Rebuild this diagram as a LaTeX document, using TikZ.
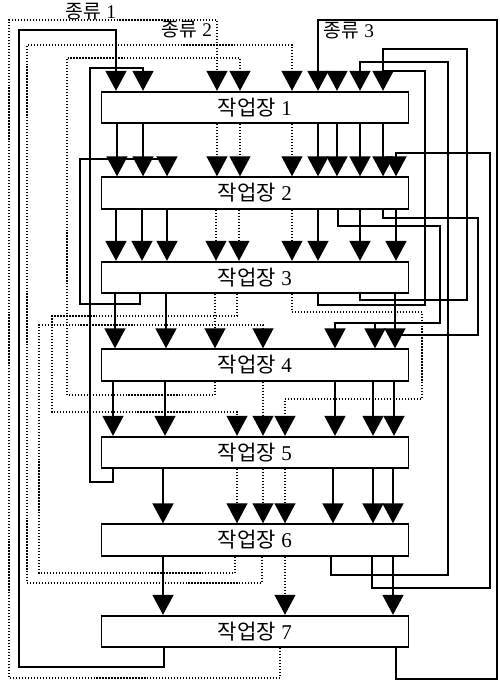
\documentclass[tikz,border=0pt]{standalone}
\usepackage{fontspec}
\setmainfont{Liberation Serif}
\newfontfamily\krfont{Noto Sans CJK KR}
\usetikzlibrary{arrows.meta}

\tikzset{
  station/.style={draw, line width=1.1pt, minimum width=6.14cm, minimum height=0.63cm,
    inner sep=0pt, font=\fontsize{12}{14}\selectfont},
  solidflow/.style={line width=1.1pt},
  dotflow/.style={line width=0.7pt, densely dotted},
  feed/.style={-{Triangle[width=0.42cm,length=0.4cm]}},
}

\begin{document}
\begin{tikzpicture}[x=0.02cm, y=-0.02cm]
    \useasboundingbox (0,0) rectangle (500,681);

    % Work stations
    \node[station] (b1) at (255,107.5) {{\krfont 작업장} 1};
    \node[station] (b2) at (255,193) {{\krfont 작업장} 2};
    \node[station] (b3) at (255,277.5) {{\krfont 작업장} 3};
    \node[station] (b4) at (255,365) {{\krfont 작업장} 4};
    \node[station] (b5) at (255,452.5) {{\krfont 작업장} 5};
    \node[station] (b6) at (255,540) {{\krfont 작업장} 6};
    \node[station] (b7) at (255,631.5) {{\krfont 작업장} 7};

    % Product labels
    \node (k1) at (91,12) {\fontsize{11}{13}\selectfont{\krfont 종류} 1};
    \node (k2) at (187,30) {\fontsize{11}{13}\selectfont{\krfont 종류} 2};
    \node (k3) at (349,31) {\fontsize{11}{13}\selectfont{\krfont 종류} 3};

    % Straight solid flows
    \draw[solidflow, feed] (117,0 |- b1.south) -- (117,0 |- b2.north);
    \draw[solidflow, feed] (143,0 |- b1.south) -- (143,0 |- b2.north);
    \draw[solidflow, feed] (318,0 |- b1.south) -- (318,0 |- b2.north);
    \draw[solidflow, feed] (337,0 |- b1.south) -- (337,0 |- b2.north);
    \draw[solidflow, feed] (360,0 |- b1.south) -- (360,0 |- b2.north);
    \draw[solidflow, feed] (383,0 |- b1.south) -- (383,0 |- b2.north);
    \draw[solidflow, feed] (116,0 |- b2.south) -- (116,0 |- b3.north);
    \draw[solidflow, feed] (142,0 |- b2.south) -- (142,0 |- b3.north);
    \draw[solidflow, feed] (167,0 |- b2.south) -- (167,0 |- b3.north);
    \draw[solidflow, feed] (318,0 |- b2.south) -- (318,0 |- b3.north);
    \draw[solidflow, feed] (360,0 |- b2.south) -- (360,0 |- b3.north);
    \draw[solidflow, feed] (396,0 |- b2.south) -- (396,0 |- b3.north);
    \draw[solidflow, feed] (115,0 |- b3.south) -- (115,0 |- b4.north);
    \draw[solidflow, feed] (166,0 |- b3.south) -- (166,0 |- b4.north);
    \draw[solidflow, feed] (395,0 |- b3.south) -- (395,0 |- b4.north);
    \draw[solidflow, feed] (113,0 |- b4.south) -- (113,0 |- b5.north);
    \draw[solidflow, feed] (165,0 |- b4.south) -- (165,0 |- b5.north);
    \draw[solidflow, feed] (335,0 |- b4.south) -- (335,0 |- b5.north);
    \draw[solidflow, feed] (373,0 |- b4.south) -- (373,0 |- b5.north);
    \draw[solidflow, feed] (394,0 |- b4.south) -- (394,0 |- b5.north);
    \draw[solidflow, feed] (163,0 |- b5.south) -- (163,0 |- b6.north);
    \draw[solidflow, feed] (333,0 |- b5.south) -- (333,0 |- b6.north);
    \draw[solidflow, feed] (373,0 |- b5.south) -- (373,0 |- b6.north);
    \draw[solidflow, feed] (393,0 |- b5.south) -- (393,0 |- b6.north);
    \draw[solidflow, feed] (163,0 |- b6.south) -- (163,0 |- b7.north);
    \draw[solidflow, feed] (393,0 |- b6.south) -- (393,0 |- b7.north);

    % Straight dotted flows
    \draw[dotflow, feed] (217,0 |- b1.south) -- (217,0 |- b2.north);
    \draw[dotflow, feed] (240,0 |- b1.south) -- (240,0 |- b2.north);
    \draw[dotflow, feed] (292,0 |- b1.south) -- (292,0 |- b2.north);
    \draw[dotflow, feed] (216,0 |- b2.south) -- (216,0 |- b3.north);
    \draw[dotflow, feed] (239,0 |- b2.south) -- (239,0 |- b3.north);
    \draw[dotflow, feed] (292,0 |- b2.south) -- (292,0 |- b3.north);
    \draw[dotflow, feed] (215,0 |- b3.south) -- (215,0 |- b4.north);
    \draw[dotflow, feed] (263,0 |- b4.south) -- (263,0 |- b5.north);
    \draw[dotflow, feed] (237,0 |- b5.south) -- (237,0 |- b6.north);
    \draw[dotflow, feed] (263,0 |- b5.south) -- (263,0 |- b6.north);
    \draw[dotflow, feed] (285,0 |- b5.south) -- (285,0 |- b6.north);
    \draw[dotflow, feed] (285,0 |- b6.south) -- (285,0 |- b7.north);

    % Solid detours and returns
    \draw[solidflow, feed] (338,0 |- b2.south) |- (440,226) |- (335,323) -- (335,0 |- b4.north);
    \draw[solidflow] (383,0 |- b2.south) |- (478,218) |- (395,335);
    \draw[solidflow, feed] (140,0 |- b3.south) |- (80,304) |- (167,159) -- (167,0 |- b2.north);
    \draw[solidflow] (318,0 |- b3.south) |- (425,305) |- (383,71);
    \draw[solidflow, feed] (360,0 |- b3.south) |- (467,300) |- (383,49) -- (383,0 |- b1.north);
    \draw[solidflow, feed] (113,0 |- b5.south) |- (90,482) |- (143,68) -- (143,0 |- b1.north);
    \draw[solidflow, feed] (331,0 |- b6.south) |- (448,575) |- (360,62) -- (360,0 |- b1.north);
    \draw[solidflow, feed] (372,0 |- b6.south) |- (490,588) |- (396,153) -- (396,0 |- b2.north);
    \draw[solidflow, feed] (164,0 |- b7.south) |- (19,667) |- (116,30) -- (116,0 |- b1.north);
    \draw[solidflow, feed] (396,0 |- b7.south) |- (497,679) |- (318,20) -- (318,0 |- b1.north);
    \draw[solidflow, feed] (337,71) -- (337,0 |- b1.north);
    \draw[solidflow, feed] (375,323) -- (375,0 |- b4.north);

    % Dotted detours and returns
    \draw[dotflow, feed] (237,0 |- b3.south) |- (52,316) |- (237,412) -- (237,0 |- b5.north);
    \draw[dotflow, feed] (292,0 |- b3.south) |- (422,312) |- (285,399) -- (285,0 |- b5.north);
    \draw[dotflow, feed] (215,0 |- b4.south) |- (67,395) |- (240,58) -- (240,0 |- b1.north);
    \draw[dotflow, feed] (235,0 |- b6.south) |- (39,573) |- (263,325) -- (263,0 |- b4.north);
    \draw[dotflow, feed] (262,0 |- b6.south) |- (27,583) |- (292,45) -- (292,0 |- b1.north);
    \draw[dotflow, feed] (280,0 |- b7.south) |- (9,678) |- (217,20) -- (217,0 |- b1.north);
\end{tikzpicture}
\end{document}
